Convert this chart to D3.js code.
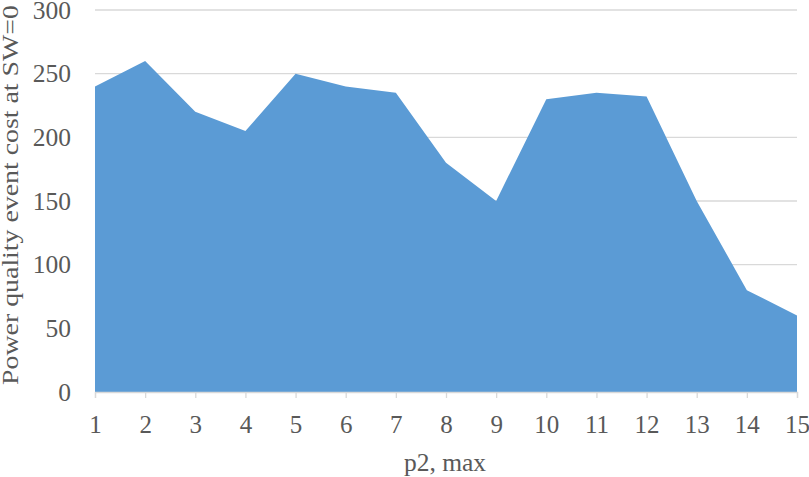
<!DOCTYPE html>
<html><head><meta charset="utf-8">
<script src="https://cdn.jsdelivr.net/npm/d3@7"></script>
<style>body{margin:0;background:#fff}</style>
</head><body>
<svg id="c" width="809" height="477"></svg>
<script>
const categories = [1,2,3,4,5,6,7,8,9,10,11,12,13,14,15];
const values = [240,260,220,205,250,240,235,180,150,230,235,232,150,80,60];
const yTicks = [0,50,100,150,200,250,300];
const xTitle = "p2, max";
const yTitle = "Power quality event cost at SW=0";

(function(){
const svg = d3.select("#c");
const mL = 95, mR = 797, mT = 10, mB = 392;
const x = d3.scaleLinear().domain([1,15]).range([mL,mR]);
const y = d3.scaleLinear().domain([0,300]).range([mB,mT]);
const font = "'Liberation Serif','Times New Roman',serif";

svg.append("g").selectAll("line").data(yTicks.filter(d=>d>0)).join("line")
  .attr("x1",mL).attr("x2",mR).attr("y1",d=>y(d)).attr("y2",d=>y(d))
  .attr("stroke","#d9d9d9").attr("stroke-width",1.3);

const area = d3.area().x((d,i)=>x(categories[i])).y0(y(0)).y1(d=>y(d));
svg.append("path").datum(values).attr("d",area).attr("fill","#5b9bd5");

const xAxis = d3.axisBottom(x).tickValues(categories).tickFormat(d3.format("d")).tickSize(6);
const gx = svg.append("g").attr("transform",`translate(0,${mB})`).call(xAxis);
gx.select(".domain").attr("stroke","#d9d9d9").attr("stroke-width",1.3);
gx.selectAll(".tick line").attr("stroke","#d9d9d9").attr("stroke-width",1.3);
gx.selectAll("text").attr("y",41).attr("dy",0).attr("fill","#595959").style("font-family",font).style("font-size","25px");

const yAxis = d3.axisLeft(y).tickValues(yTicks).tickSize(0).tickPadding(24);
const gy = svg.append("g").attr("transform",`translate(${mL},0)`).call(yAxis);
gy.select(".domain").remove();
gy.selectAll("text").attr("fill","#595959").style("font-family",font).style("font-size","25.5px");

svg.append("text").attr("x",445).attr("y",471).attr("text-anchor","middle")
  .attr("fill","#595959").style("font-family",font).style("font-size","25.5px").text(xTitle);
svg.append("text").attr("transform",`translate(18,195) rotate(-90) scale(1.16,1)`).attr("text-anchor","middle")
  .attr("fill","#595959").style("font-family",font).style("font-size","24px").text(yTitle);
})();
</script>
</body></html>
